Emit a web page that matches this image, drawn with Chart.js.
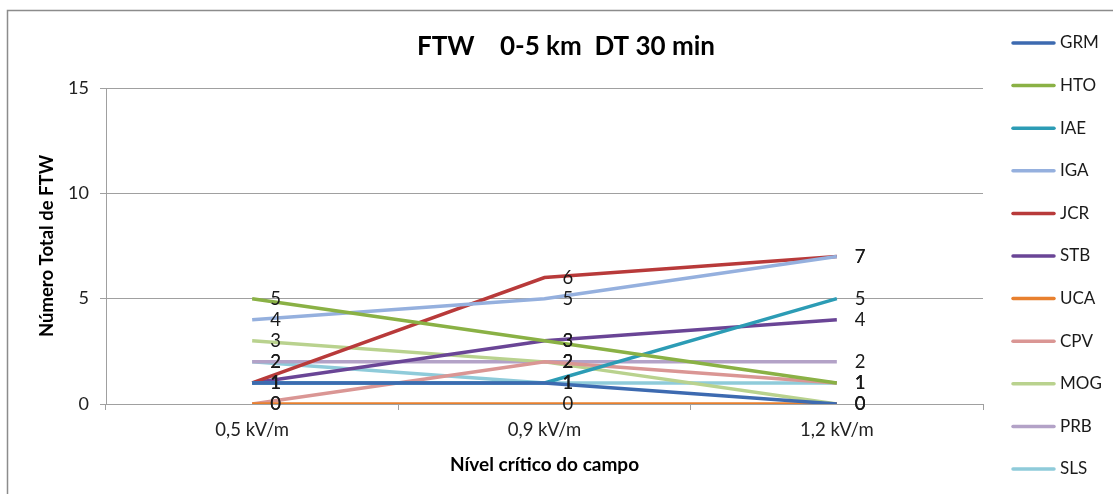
<!DOCTYPE html>
<html>
<head>
<meta charset="utf-8">
<script src="https://cdn.jsdelivr.net/npm/chart.js@4"></script>
<style>
  html, body { margin: 0; padding: 0; background: #fff; }
  #wrap { width: 1113px; height: 494px; position: relative; }
</style>
</head>
<body>
<div id="wrap"><canvas id="c" width="1113" height="494"></canvas></div>
<script>
const categories = ['0,5 kV/m', '0,9 kV/m', '1,2 kV/m'];
const seriesNames = ['GRM', 'HTO', 'IAE', 'IGA', 'JCR', 'STB', 'UCA', 'CPV', 'MOG', 'PRB', 'SLS'];
const GRM = [1, 1, 0];
const HTO = [5, 3, 1];
const IAE = [1, 1, 5];
const IGA = [4, 5, 7];
const JCR = [1, 6, 7];
const STB = [1, 3, 4];
const UCA = [0, 0, 0];
const CPV = [0, 2, 1];
const MOG = [3, 2, 0];
const PRB = [2, 2, 2];
const SLS = [2, 1, 1];
const yTicks = [0, 5, 10, 15];
const titleText = 'FTW    0-5 km  DT 30 min';
const yTitle = 'Número Total de FTW';
const xTitle = 'Nível crítico do campo';

const seriesValues = [GRM, HTO, IAE, IGA, JCR, STB, UCA, CPV, MOG, PRB, SLS];
const colors = ['#3D6AB0', '#8AB145', '#2C9CB5', '#95B0DE', '#B83A3A', '#6A4596',
                '#E8802E', '#DA9694', '#B9D28E', '#B3A2C7', '#8FCBDA'];
const FONT = 'Lato, "Open Sans", sans-serif';

const decor = {
  id: 'decor',
  afterDraw(chart) {
    const ctx = chart.ctx;
    const area = chart.chartArea;
    ctx.save();
    // outer border
    ctx.strokeStyle = '#8c8c8c';
    ctx.lineWidth = 1.5;
    ctx.strokeRect(7.5, 10.5, 3000, 3000);
    // title
    ctx.fillStyle = '#000';
    ctx.textAlign = 'center';
    ctx.textBaseline = 'middle';
    ctx.font = 'bold 26px ' + FONT;
    ctx.fillText(titleText, 566, 47);
    // x title
    ctx.font = 'bold 19px ' + FONT;
    ctx.fillText(xTitle, (area.left + area.right) / 2, 465);
    // y title
    ctx.save();
    ctx.translate(47, 246);
    ctx.rotate(-Math.PI / 2);
    ctx.font = 'bold 18.5px ' + FONT;
    ctx.fillText(yTitle, 0, 0);
    ctx.restore();
    // data labels
    ctx.font = '18.5px ' + FONT;
    ctx.fillStyle = '#1a1a1a';
    ctx.textAlign = 'left';
    chart.data.datasets.forEach((ds, i) => {
      const meta = chart.getDatasetMeta(i);
      meta.data.forEach((pt, j) => {
        ctx.fillText(String(ds.data[j]), pt.x + 18, pt.y);
      });
    });
    // legend
    ctx.font = '17px ' + FONT;
    ctx.lineWidth = 3.5;
    ctx.lineCap = 'round';
    chart.data.datasets.forEach((ds, i) => {
      const y = 43 + i * 42.6;
      ctx.strokeStyle = ds.borderColor;
      ctx.beginPath();
      ctx.moveTo(1013, y);
      ctx.lineTo(1054, y);
      ctx.stroke();
      ctx.fillStyle = '#1a1a1a';
      ctx.fillText(ds.label, 1060, y);
    });
    ctx.restore();
  }
};

new Chart(document.getElementById('c'), {
  type: 'line',
  data: {
    labels: categories,
    datasets: seriesNames.map((name, i) => ({
      label: name,
      data: seriesValues[i],
      borderColor: colors[i],
      backgroundColor: colors[i],
      borderWidth: 3.5,
      pointRadius: 0,
      tension: 0,
      fill: false
    }))
  },
  options: {
    responsive: false,
    animation: false,
    layout: { padding: { left: 0, top: 88, right: 130, bottom: 0 } },
    plugins: { legend: { display: false }, title: { display: false }, tooltip: { enabled: false } },
    scales: {
      x: {
        type: 'category',
        offset: true,
        afterFit(scale) { scale.height = 90; },
        grid: { offset: true, drawOnChartArea: false, drawTicks: true, tickLength: 6, color: '#a0a0a0', lineWidth: 1 },
        border: { display: true, color: '#a0a0a0', width: 1 },
        ticks: { color: '#222', font: { family: FONT, size: 18.5 }, padding: 9, maxRotation: 0 }
      },
      y: {
        min: 0,
        max: 15,
        afterFit(scale) { scale.width = 106; },
        afterBuildTicks(scale) { scale.ticks = yTicks.map(v => ({ value: v })); },
        grid: { color: '#a0a0a0', lineWidth: 1, drawTicks: true, tickLength: 6 },
        border: { display: true, color: '#a0a0a0', width: 1 },
        ticks: { color: '#222', font: { family: FONT, size: 18 }, padding: 11 }
      }
    }
  },
  plugins: [decor]
});
</script>
</body>
</html>
